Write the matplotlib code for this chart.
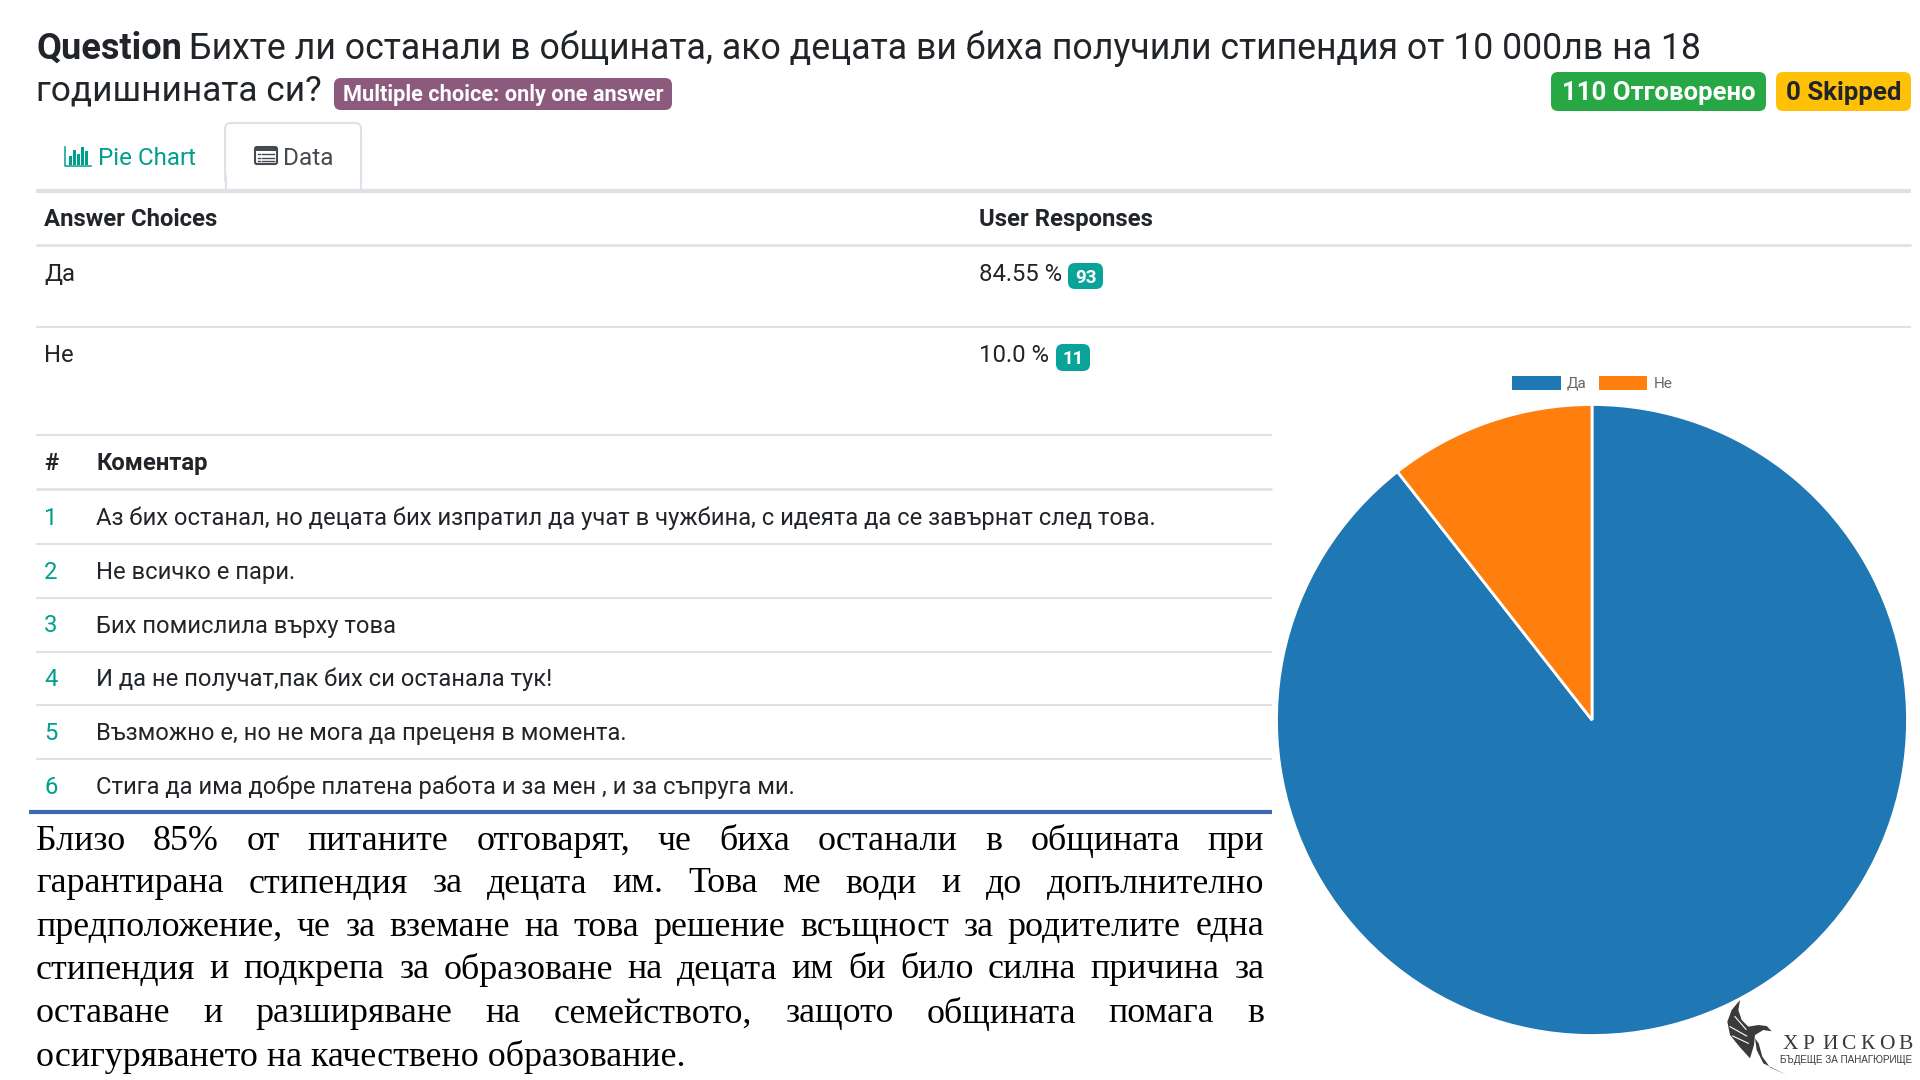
import matplotlib
matplotlib.use("Agg")
import matplotlib.pyplot as plt
from matplotlib.patches import FancyBboxPatch, Rectangle, Polygon

# Data
answers = ["Да", "Не"]
percents = ["84.55 %", "10.0 %"]
counts = [93, 11]
colors = ["#1f77b4", "#ff7f0e"]
comments = [
    "Аз бих останал, но децата бих изпратил да учат в чужбина, с идеята да се завърнат след това.",
    "Не всичко е пари.",
    "Бих помислила върху това",
    "И да не получат,пак бих си останала тук!",
    "Възможно е, но не мога да преценя в момента.",
    "Стига да има добре платена работа и за мен , и за съпруга ми.",
]
paragraph = [
    "Близо 85% от питаните отговарят, че биха останали в общината при",
    "гарантирана стипендия за децата им. Това ме води и до допълнително",
    "предположение, че за вземане на това решение всъщност за родителите една",
    "стипендия и подкрепа за образоване на децата им би било силна причина за",
    "оставане и разширяване на семейството, защото общината помага в",
    "осигуряването на качествено образование.",
]

DARK = "#212529"
TEAL = "#009e8f"
LINE = "#dee2e6"
BODY = 17.2

plt.rcParams["font.family"] = ["Roboto", "DejaVu Sans"]

fig = plt.figure(figsize=(19.2, 10.8), dpi=100)
ax = fig.add_axes([0, 0, 1, 1])
ax.set_xlim(0, 1920)
ax.set_ylim(1080, 0)
ax.axis("off")


def txt(x, y, s, size, color=DARK, weight="normal", ha="left", **kw):
    return ax.text(x, y, s, fontsize=size, color=color, fontweight=weight,
                   ha=ha, va="center_baseline", **kw)


def badge(x0, y0, x1, y1, color, s, tcolor="white", size=17, dy=-1):
    ax.add_patch(FancyBboxPatch((x0 + 7, y0 + 7), x1 - x0 - 14, y1 - y0 - 14,
                                boxstyle="round,pad=7,rounding_size=7",
                                fc=color, ec="none"))
    txt((x0 + x1) / 2, (y0 + y1) / 2 + dy, s, size, tcolor, "bold", ha="center")


def hline(y, x0=36, x1=1911, color=LINE, lw=2.0):
    ax.plot([x0, x1], [y, y], color=color, lw=lw, solid_capstyle="butt", zorder=4)


# Header
t = txt(36, 45, "Question", 26, weight="bold")
fig.canvas.draw()
r = fig.canvas.get_renderer()
qx = t.get_window_extent(r).x1
txt(qx + 7, 45, "Бихте ли останали в общината, ако децата ви биха получили стипендия от 10 000лв на 18", 25.65)
txt(36, 88, "годишнината си?", 25.4)
badge(334, 78, 672, 110, "#8b5a7d", "Multiple choice: only one answer", size=15.7)
badge(1551, 72, 1766, 111, "#28a745", "110 Отговорено", size=18.5)
badge(1776, 72, 1911, 111, "#ffc107", "0 Skipped", DARK, size=18.6)

# Tabs
ax.add_patch(FancyBboxPatch((231, 129), 124, 50, boxstyle="round,pad=6,rounding_size=6",
                            fc="white", ec=LINE, lw=1.5))
ax.add_patch(Rectangle((225.8, 176), 134.4, 15, fc="white", ec="none", zorder=3))
ax.plot([225.5, 225.5], [176, 191], color=LINE, lw=1.5, zorder=3)
ax.plot([360.5, 360.5], [176, 191], color=LINE, lw=1.5, zorder=3)
hline(191, lw=3.0)
for bx, bh in zip([69, 73, 77, 81, 85], [9, 15, 11, 18, 14]):
    ax.add_patch(Rectangle((bx, 165 - bh), 2.5, bh, fc=TEAL, ec="none"))
ax.plot([65, 65, 91], [147, 166, 166], color=TEAL, lw=1.1)
txt(98, 156, "Pie Chart", 17.4, TEAL)
ax.add_patch(FancyBboxPatch((256, 148), 20, 15, boxstyle="round,pad=1,rounding_size=2",
                            fc="white", ec="#444a50", lw=1.5))
ax.add_patch(Rectangle((255, 147), 22, 4, fc="#444a50", ec="none"))
for ly in [154, 157.5, 161]:
    ax.plot([258, 260], [ly, ly], color="#444a50", lw=1)
    ax.plot([262, 274], [ly, ly], color="#444a50", lw=1)
txt(283, 156, "Data", 17.6, "#444a50")

# Answers table
txt(44, 217, "Answer Choices", BODY, weight="bold")
txt(979, 217, "User Responses", BODY, weight="bold")
hline(245, lw=2.0)
row_y = [272, 353]
badge_y = [(263, 289), (344, 371)]
badge_x = [(1068, 1103), (1056, 1090)]
for i in range(len(answers)):
    txt(44, row_y[i], answers[i], BODY)
    txt(979, row_y[i], percents[i], BODY)
    badge(badge_x[i][0], badge_y[i][0], badge_x[i][1], badge_y[i][1], "#0aa39a",
          str(counts[i]), size=13.5, dy=0)
hline(327, lw=1.5)

# Comments table
hline(435, x1=1272, lw=1.5)
txt(44, 461, "#", BODY, weight="bold")
txt(96, 461, "Коментар", BODY, weight="bold")
hline(489, x1=1272, lw=2.0)
comment_y = [516, 570, 623.5, 677, 731, 785]
for i, c in enumerate(comments):
    txt(44, comment_y[i], str(i + 1), BODY, TEAL, ha="left")
    txt(96, comment_y[i], c, 17.1)
    if i < len(comments) - 1:
        hline(comment_y[i] + 28, x1=1272, lw=1.5)
hline(812, x0=29, x1=1272, color="#3e69b0", lw=3.0)

# Justified paragraph
para_y = [837, 880, 923, 966, 1010, 1053]
serif = "Liberation Serif"
PARA_SIZE = 25.8
PX0, PX1 = 36, 1264
for i, line in enumerate(paragraph):
    words = line.split()
    if i == len(paragraph) - 1:
        ax.text(PX0, para_y[i], line, fontsize=PARA_SIZE, family=serif, color="black",
                va="center_baseline")
        continue
    arts = [ax.text(0, para_y[i], w, fontsize=PARA_SIZE, family=serif, color="black",
                    va="center_baseline") for w in words]
    widths = [a.get_window_extent(r).width for a in arts]
    gap = (PX1 - PX0 - sum(widths)) / (len(words) - 1)
    cx = PX0
    for a, w in zip(arts, widths):
        a.set_x(cx)
        cx += w + gap

# Pie chart
PCX, PCY, PR = 1592, 720, 315.5
pie_ax = fig.add_axes([(PCX - PR) / 1920, 1 - (PCY + PR) / 1080, 2 * PR / 1920, 2 * PR / 1080])
pie_ax.pie(counts, colors=colors, startangle=90, counterclock=False,
           wedgeprops={"edgecolor": "white", "linewidth": 2})
pie_ax.set_xlim(-1, 1)
pie_ax.set_ylim(-1, 1)

# Legend drawn to sit above the pie as in the source page
ax.add_patch(Rectangle((1512, 376), 49, 14, fc=colors[0], ec="none"))
txt(1567, 382, answers[0], 11, "#666666")
ax.add_patch(Rectangle((1599, 376), 48, 14, fc=colors[1], ec="none"))
txt(1654, 382, answers[1], 11, "#666666")

# Logo, sits on top of the pie
LOGO = "#3a3a3c"
ovl = fig.add_axes([0, 0, 1, 1], facecolor="none")
ovl.set_xlim(0, 1920)
ovl.set_ylim(1080, 0)
ovl.axis("off")


def lp(pts):
    return [(1600 + px / 3, 960 + py / 3) for px, py in pts]


wing = [(420, 120), (395, 150), (382, 185), (390, 225), (420, 262), (450, 295), (462, 255),
        (465, 225), (490, 210), (515, 214), (500, 198), (475, 195), (445, 200), (425, 180), (415, 150)]
tail = [(465, 235), (470, 270), (490, 310), (560, 345), (510, 322), (487, 290), (476, 250)]
ovl.add_patch(Polygon(lp(wing), fc=LOGO, ec="none"))
ovl.add_patch(Polygon(lp(tail), fc=LOGO, ec="none"))
for seg in [[(405, 170), (438, 208)], [(390, 200), (440, 228)], [(398, 228), (445, 250)]]:
    ovl.plot(*zip(*lp(seg)), color="white", lw=0.8)
logo_letters = "ХРИСКОВ"
logo_x = [1783, 1802.5, 1822, 1841, 1860, 1879, 1898]
for ch, lx in zip(logo_letters, logo_x):
    ovl.text(lx, 1042, ch, fontsize=15.5, family=serif, color=LOGO, va="center_baseline")
ovl.text(1780, 1059, "БЪДЕЩЕ ЗА ПАНАГЮРИЩЕ", fontsize=7.1, family="Liberation Sans",
         color=LOGO, va="center_baseline")

plt.savefig("out.png", dpi=100)
